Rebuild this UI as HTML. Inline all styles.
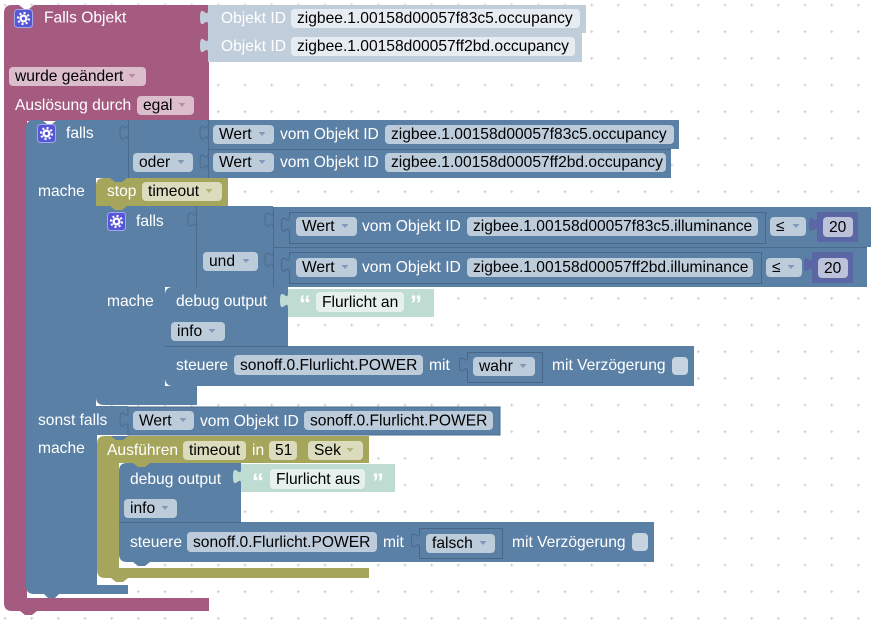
<!DOCTYPE html>
<html><head><meta charset="utf-8"><style>
html,body{margin:0;padding:0;background:#fff;}
svg{display:block;}
.w{fill:#fff;}
.k{fill:#000;}
text{font-family:"Liberation Sans",Arial,sans-serif;font-size:15.6px;}
.q{font-family:"Liberation Sans",Arial,sans-serif;font-size:24px;font-weight:bold;fill:#fff;}
</style></head><body>
<svg width="876" height="620" viewBox="0 0 876 620" xmlns="http://www.w3.org/2000/svg">
<defs>
<pattern id="g" x="-8.33" y="-8.33" width="26.667" height="26.667" patternUnits="userSpaceOnUse">
<path d="M11.83 13.33h3M13.33 11.83v3" stroke="#cfcfcf" stroke-width="1"/>
</pattern>
</defs>
<rect width="876" height="620" fill="#fff"/>
<rect width="876" height="620" fill="url(#g)"/>

<!-- Pink hat block -->
<path d="M4,13 Q4,5 12,5 H19 L24,9 H29 L34,5 H209 V121 H27 V598 H209 V611 H37 L32,615 H25 L20,611 H12 Q4,611 4,603 Z" fill="#A55B80"/>

<!-- Objekt ID blocks -->
<path d="M208,5 H586 V33 H208 V25 c0,-10 -8,8 -8,-7.5 c0,-15.5 8,2.5 8,-7.5 Z" fill="#C0CDDB"/>
<path d="M208,33 H582 V62 H208 V53 c0,-10 -8,8 -8,-7.5 c0,-15.5 8,2.5 8,-7.5 Z" fill="#C0CDDB"/>

<!-- Outer if block -->
<path d="M26,128 Q26,120 34,120 H42 L47,124 H52 L57,120 H128 V178 H96 V406 H128 V435 H97 V585 H128 V594 H59 L55,598 H48 L44,594 H34 Q26,594 26,586 Z" fill="#5B80A5"/>
<rect x="128" y="120" width="80" height="58" fill="#5B80A5"/>
<rect x="208" y="120" width="471" height="29" fill="#5B80A5"/>
<rect x="208" y="149" width="463" height="29" fill="#5B80A5"/>
<path d="M208,149.5 H671 M128.5,120 V178 M208.5,120 V178" stroke="#4a6b8c" stroke-width="1" fill="none"/>
<path d="M128,140 c0,-10 -8,8 -8,-7.5 c0,-15.5 8,2.5 8,-7.5 M208,140 c0,-10 -8,8 -8,-7.5 c0,-15.5 8,2.5 8,-7.5 M208,169 c0,-10 -8,8 -8,-7.5 c0,-15.5 8,2.5 8,-7.5" stroke="#4a6b8c" stroke-width="1" fill="none"/>

<!-- stop block -->
<path d="M96,186 Q96,178 104,178 H228 V206 H96 Z" fill="#A5A55B"/>
<path d="M110,178 L115,182 H122 L127,178 Z" fill="#5B80A5"/>

<!-- inner if block -->
<path d="M96,206 H196 V287 H165 V386 H197 V405 H104 Q96,405 96,397 Z" fill="#5B80A5"/>
<path d="M110,206 L115,210 H122 L127,206 Z" fill="#A5A55B"/>
<rect x="196" y="206" width="77" height="81" fill="#5B80A5"/>
<rect x="273" y="207" width="598" height="40" fill="#5B80A5"/>
<rect x="273" y="247" width="594" height="40" fill="#5B80A5"/>
<path d="M196.5,206 V287 M273.5,207 V287 M273,247.5 H867" stroke="#4a6b8c" stroke-width="1" fill="none"/>
<path d="M196,227 c0,-10 -8,8 -8,-7.5 c0,-15.5 8,2.5 8,-7.5 M273,227 c0,-10 -8,8 -8,-7.5 c0,-15.5 8,2.5 8,-7.5 M273,267 c0,-10 -8,8 -8,-7.5 c0,-15.5 8,2.5 8,-7.5" stroke="#4a6b8c" stroke-width="1" fill="none"/>
<path d="M289.5,212.5 H765.5 V243.5 H289.5 V232 c0,-10 -8,8 -8,-7.5 c0,-15.5 8,2.5 8,-7.5 Z" fill="#5B80A5" stroke="#46678a" stroke-width="1"/>
<path d="M289.5,252.5 H761.5 V283.5 H289.5 V272 c0,-10 -8,8 -8,-7.5 c0,-15.5 8,2.5 8,-7.5 Z" fill="#5B80A5" stroke="#46678a" stroke-width="1"/>
<path d="M817,212 H858 V242 H817 V232 c0,-10 -8,8 -8,-7.5 c0,-15.5 8,2.5 8,-7.5 Z" fill="#5B67A5"/>
<path d="M812,252 H853 V283 H812 V272 c0,-10 -8,8 -8,-7.5 c0,-15.5 8,2.5 8,-7.5 Z" fill="#5B67A5"/>

<!-- debug output 1 -->
<path d="M165,295 Q165,287 173,287 H288 V346 H165 Z" fill="#5B80A5"/>
<path d="M288,289 H434 V317 H288 V308 c0,-10 -8,8 -8,-7.5 c0,-15.5 8,2.5 8,-7.5 Z" fill="#BEDCD1"/>
<!-- steuere 1 -->
<path d="M165,346 H694 V386 H173 Q165,386 165,378 Z" fill="#5B80A5"/>
<path d="M165,346.5 H288" stroke="#4a6b8c" stroke-width="1"/>
<path d="M467.5,352.5 H542.5 V382.5 H467.5 V372 c0,-10 -8,8 -8,-7.5 c0,-15.5 8,2.5 8,-7.5 Z" fill="#5B80A5" stroke="#46678a" stroke-width="1"/>

<!-- sonst falls Wert -->
<path d="M128,407 H500 V435 H128 V427 c0,-10 -8,8 -8,-7.5 c0,-15.5 8,2.5 8,-7.5 Z" fill="#5B80A5" stroke="#4a6b8c" stroke-width="1"/>

<!-- Ausführen -->
<path d="M97,444 Q97,436 105,436 H369 V463 H119 V568 H369 V578 H105 Q97,578 97,570 Z" fill="#A5A55B"/>
<path d="M111,436 L116,440 H123 L128,436 Z" fill="#5B80A5"/>
<path d="M111,578 L116,582 H123 L128,578 Z" fill="#A5A55B"/>
<!-- debug 2 -->
<path d="M119,471 Q119,463 127,463 H241 V522 H119 Z" fill="#5B80A5"/>
<path d="M133,463 L138,467 H145 L150,463 Z" fill="#A5A55B"/>
<path d="M241,464 H395 V492 H241 V484 c0,-10 -8,8 -8,-7.5 c0,-15.5 8,2.5 8,-7.5 Z" fill="#BEDCD1"/>
<!-- steuere 2 -->
<path d="M119,522 H654 V562 H127 Q119,562 119,554 Z" fill="#5B80A5"/>
<path d="M119,522.5 H241" stroke="#4a6b8c" stroke-width="1"/>
<path d="M133,562 L138,566 H145 L150,562 Z" fill="#5B80A5"/>
<path d="M419.5,528.5 H502.5 V558.5 H419.5 V548 c0,-10 -8,8 -8,-7.5 c0,-15.5 8,2.5 8,-7.5 Z" fill="#5B80A5" stroke="#46678a" stroke-width="1"/>

<!-- Gear icons -->
<g>
<rect x="14.5" y="9.5" width="18" height="18" rx="3" fill="#5656d6" stroke="#a3a8ec"/>
<circle cx="23.5" cy="18.5" r="5.5" fill="none" stroke="#fff" stroke-width="2.2" stroke-dasharray="2 2.3"/>
<circle cx="23.5" cy="18.5" r="4" fill="#fff"/><circle cx="23.5" cy="18.5" r="1.7" fill="#5656d6"/>
</g>
<g>
<rect x="37.5" y="124.5" width="18" height="18" rx="3" fill="#5656d6" stroke="#a3a8ec"/>
<circle cx="46.5" cy="133.5" r="5.5" fill="none" stroke="#fff" stroke-width="2.2" stroke-dasharray="2 2.3"/>
<circle cx="46.5" cy="133.5" r="4" fill="#fff"/><circle cx="46.5" cy="133.5" r="1.7" fill="#5656d6"/>
</g>
<g>
<rect x="107.5" y="212.5" width="18" height="18" rx="3" fill="#5656d6" stroke="#a3a8ec"/>
<circle cx="116.5" cy="221.5" r="5.5" fill="none" stroke="#fff" stroke-width="2.2" stroke-dasharray="2 2.3"/>
<circle cx="116.5" cy="221.5" r="4" fill="#fff"/><circle cx="116.5" cy="221.5" r="1.7" fill="#5656d6"/>
</g>

<!-- Fields -->
<g>
<rect x="291" y="9" width="289" height="19" rx="4" fill="#E6ECF1"/>
<rect x="291" y="37" width="284" height="19" rx="4" fill="#E6ECF1"/>
<rect x="9" y="67" width="137" height="19" rx="4" fill="#DBBDCC"/>
<rect x="137" y="96" width="57" height="19" rx="4" fill="#DBBDCC"/>
<rect x="133" y="153" width="60" height="19" rx="4" fill="#BDCCDB"/>
<rect x="213" y="125" width="61" height="19" rx="4" fill="#BDCCDB"/>
<rect x="385" y="125" width="289" height="19" rx="4" fill="#BDCCDB"/>
<rect x="213" y="153" width="61" height="19" rx="4" fill="#BDCCDB"/>
<rect x="385" y="153" width="281" height="19" rx="4" fill="#BDCCDB"/>
<rect x="142" y="182" width="80" height="19" rx="4" fill="#DBDBBD"/>
<rect x="203" y="252" width="55" height="19" rx="4" fill="#BDCCDB"/>
<rect x="296" y="217" width="61" height="19" rx="4" fill="#BDCCDB"/>
<rect x="467" y="217" width="291" height="19" rx="4" fill="#BDCCDB"/>
<rect x="770" y="217" width="36" height="19" rx="4" fill="#BDCCDB"/>
<rect x="823" y="217" width="30" height="20" rx="4" fill="#BDC2DB"/>
<rect x="296" y="258" width="61" height="19" rx="4" fill="#BDCCDB"/>
<rect x="467" y="258" width="286" height="19" rx="4" fill="#BDCCDB"/>
<rect x="766" y="258" width="36" height="19" rx="4" fill="#BDCCDB"/>
<rect x="818" y="258" width="30" height="20" rx="4" fill="#BDC2DB"/>
<rect x="316" y="292" width="88" height="20" rx="4" fill="#E6F1ED"/>
<rect x="171" y="322" width="54" height="19" rx="4" fill="#BDCCDB"/>
<rect x="234" y="355" width="189" height="20" rx="4" fill="#BDCCDB"/>
<rect x="473" y="357" width="62" height="19" rx="4" fill="#BDCCDB"/>
<rect x="672" y="357" width="16" height="18" rx="4" fill="#C6D3E0"/>
<rect x="133" y="411" width="61" height="19" rx="4" fill="#BDCCDB"/>
<rect x="304" y="411" width="189" height="19" rx="4" fill="#BDCCDB"/>
<rect x="183" y="441" width="63" height="19" rx="4" fill="#DBDBBD"/>
<rect x="269" y="441" width="28" height="19" rx="4" fill="#DBDBBD"/>
<rect x="308" y="441" width="55" height="19" rx="4" fill="#DBDBBD"/>
<rect x="270" y="469" width="95" height="20" rx="4" fill="#E6F1ED"/>
<rect x="124" y="499" width="53" height="19" rx="4" fill="#BDCCDB"/>
<rect x="187" y="532" width="190" height="20" rx="4" fill="#BDCCDB"/>
<rect x="426" y="534" width="69" height="19" rx="4" fill="#BDCCDB"/>
<rect x="632" y="533" width="16" height="18" rx="4" fill="#C6D3E0"/>
</g>

<!-- Dropdown arrows -->
<g fill="#7f9ab8">
<path d="M128.5,74 h7 l-3.5,4 z" fill="#bf8aa4"/>
<path d="M178.5,103 h7 l-3.5,4 z" fill="#bf8aa4"/>
<path d="M177.5,160 h7 l-3.5,4 z"/>
<path d="M258.5,132 h7 l-3.5,4 z"/>
<path d="M258.5,160 h7 l-3.5,4 z"/>
<path d="M205.5,189 h7 l-3.5,4 z" fill="#b3b372"/>
<path d="M242.5,259 h7 l-3.5,4 z"/>
<path d="M341.5,224 h7 l-3.5,4 z"/>
<path d="M341.5,265 h7 l-3.5,4 z"/>
<path d="M792.5,224 h7 l-3.5,4 z"/>
<path d="M787.5,265 h7 l-3.5,4 z"/>
<path d="M208.5,329 h7 l-3.5,4 z"/>
<path d="M519.5,364 h7 l-3.5,4 z"/>
<path d="M179.5,418 h7 l-3.5,4 z"/>
<path d="M346.5,448 h7 l-3.5,4 z" fill="#b3b372"/>
<path d="M161.5,506 h7 l-3.5,4 z"/>
<path d="M479.5,541 h7 l-3.5,4 z"/>
</g>

<!-- Labels -->
<text class="w" x="44" y="22.5">Falls Objekt</text>
<text class="w" x="221" y="23">Objekt ID</text>
<text class="k" x="297" y="23">zigbee.1.00158d00057f83c5.occupancy</text>
<text class="w" x="221" y="51">Objekt ID</text>
<text class="k" x="297" y="51">zigbee.1.00158d00057ff2bd.occupancy</text>
<text class="k" x="15" y="81">wurde geändert</text>
<text class="w" x="15" y="110">Auslösung durch</text>
<text class="k" x="143" y="110">egal</text>

<text class="w" x="66" y="138">falls</text>
<text class="k" x="219" y="139">Wert</text>
<text class="w" x="280" y="139">vom Objekt ID</text>
<text class="k" x="391" y="139">zigbee.1.00158d00057f83c5.occupancy</text>
<text class="k" x="139" y="167">oder</text>
<text class="k" x="219" y="167">Wert</text>
<text class="w" x="280" y="167">vom Objekt ID</text>
<text class="k" x="391" y="167">zigbee.1.00158d00057ff2bd.occupancy</text>

<text class="w" x="38" y="196">mache</text>
<text class="w" x="107" y="196">stop</text>
<text class="k" x="148" y="196">timeout</text>

<text class="w" x="136" y="226">falls</text>
<text class="k" x="302" y="231">Wert</text>
<text class="w" x="362" y="231">vom Objekt ID</text>
<text class="k" x="473" y="231">zigbee.1.00158d00057f83c5.illuminance</text>
<text class="k" x="776" y="231">≤</text>
<text class="k" x="829" y="232">20</text>
<text class="k" x="209" y="266">und</text>
<text class="k" x="302" y="272">Wert</text>
<text class="w" x="362" y="272">vom Objekt ID</text>
<text class="k" x="473" y="272">zigbee.1.00158d00057ff2bd.illuminance</text>
<text class="k" x="772" y="272">≤</text>
<text class="k" x="824" y="273">20</text>

<text class="w" x="107" y="306">mache</text>
<text class="w" x="176" y="306">debug output</text>
<text class="q" x="299" y="312">“</text>
<text class="k" x="322" y="307">Flurlicht an</text>
<text class="q" x="410" y="312">”</text>
<text class="k" x="177" y="336">info</text>
<text class="w" x="176" y="370">steuere</text>
<text class="k" x="240" y="370">sonoff.0.Flurlicht.POWER</text>
<text class="w" x="429" y="370">mit</text>
<text class="k" x="479" y="371">wahr</text>
<text class="w" x="552" y="370">mit Verzögerung</text>

<text class="w" x="38" y="425">sonst falls</text>
<text class="k" x="139" y="425.5">Wert</text>
<text class="w" x="200" y="426">vom Objekt ID</text>
<text class="k" x="310" y="425.5">sonoff.0.Flurlicht.POWER</text>

<text class="w" x="38" y="453">mache</text>
<text class="w" x="107" y="455">Ausführen</text>
<text class="k" x="189" y="455">timeout</text>
<text class="w" x="252" y="455">in</text>
<text class="k" x="275" y="455">51</text>
<text class="k" x="314" y="455">Sek</text>

<text class="w" x="130" y="484">debug output</text>
<text class="q" x="252" y="490">“</text>
<text class="k" x="276" y="484">Flurlicht aus</text>
<text class="q" x="372" y="490">”</text>
<text class="k" x="130" y="513">info</text>
<text class="w" x="130" y="547">steuere</text>
<text class="k" x="193" y="547">sonoff.0.Flurlicht.POWER</text>
<text class="w" x="383" y="547">mit</text>
<text class="k" x="432" y="548">falsch</text>
<text class="w" x="512" y="547">mit Verzögerung</text>
</svg>
</body></html>
